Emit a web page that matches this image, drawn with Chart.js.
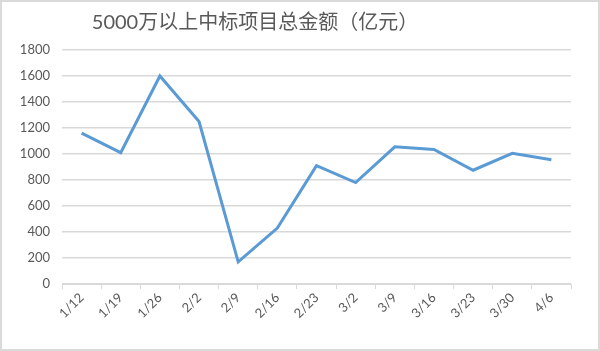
<!DOCTYPE html>
<html>
<head>
<meta charset="utf-8">
<script src="https://cdn.jsdelivr.net/npm/chart.js@4/dist/chart.umd.min.js"></script>
<style>
    html, body { margin: 0; padding: 0; background: #fff; }
    #wrap {
        width: 600px; height: 351px; box-sizing: border-box;
        border: 2px solid #dadada; position: relative;
    }
    #chart { display: block; }
</style>
</head>
<body>
<div id="wrap"><canvas id="chart" width="596" height="347"></canvas></div>
<script>
const title = '5000万以上中标项目总金额（亿元）';
const weeks = ['1/12', '1/19', '1/26', '2/2', '2/9', '2/16', '2/23', '3/2', '3/9', '3/16', '3/23', '3/30', '4/6'];
const amounts = [1160, 1010, 1600, 1250, 170, 430, 910, 780, 1055, 1035, 875, 1005, 955];
const yTicks = [0, 200, 400, 600, 800, 1000, 1200, 1400, 1600, 1800];

const textColor = '#595959';
const gridColor = '#d9d9d9';
const fontFamily = "Lato, 'Noto Sans CJK SC', sans-serif";

// title sits left of centre in the original, so draw it by hand
const titlePlugin = {
    id: 'sheetTitle',
    afterDraw(chart) {
        const c = chart.ctx;
        c.save();
        c.fillStyle = textColor;
        c.font = "20px " + fontFamily;
        c.textAlign = 'center';
        c.textBaseline = 'middle';
        c.fillText(title, 253, 21);
        c.restore();
    }
};

const ctx = document.getElementById('chart');
new Chart(ctx, {
    type: 'line',
    data: {
        labels: weeks,
        datasets: [{
            label: title,
            data: amounts,
            borderColor: '#5b9bd5',
            borderWidth: 3,
            pointRadius: 0,
            tension: 0,
            fill: false
        }]
    },
    options: {
        responsive: false,
        animation: false,
        layout: { padding: { top: 48, right: 27, bottom: 0, left: 0 } },
        plugins: {
            legend: { display: false },
            title: { display: false },
            tooltip: { enabled: false }
        },
        scales: {
            x: {
                offset: true,
                grid: {
                    offset: true,
                    drawOnChartArea: false,
                    drawTicks: true,
                    tickLength: 5,
                    color: gridColor
                },
                border: { display: true, color: gridColor, width: 1 },
                ticks: {
                    color: textColor,
                    font: { family: fontFamily, size: 13 },
                    minRotation: 45,
                    maxRotation: 45,
                    padding: 1,
                    autoSkip: false
                },
                afterFit(axis) { axis.height = 65; }
            },
            y: {
                min: 0,
                max: 1800,
                afterBuildTicks(axis) { axis.ticks = yTicks.map(v => ({ value: v })); },
                grid: { color: gridColor, lineWidth: 1.5, drawTicks: false },
                border: { display: false },
                ticks: {
                    color: textColor,
                    font: { family: fontFamily, size: 13 },
                    padding: 12,
                    callback: v => String(v)
                },
                afterFit(axis) { axis.width = 60; }
            }
        }
    },
    plugins: [titlePlugin]
});
</script>
</body>
</html>
